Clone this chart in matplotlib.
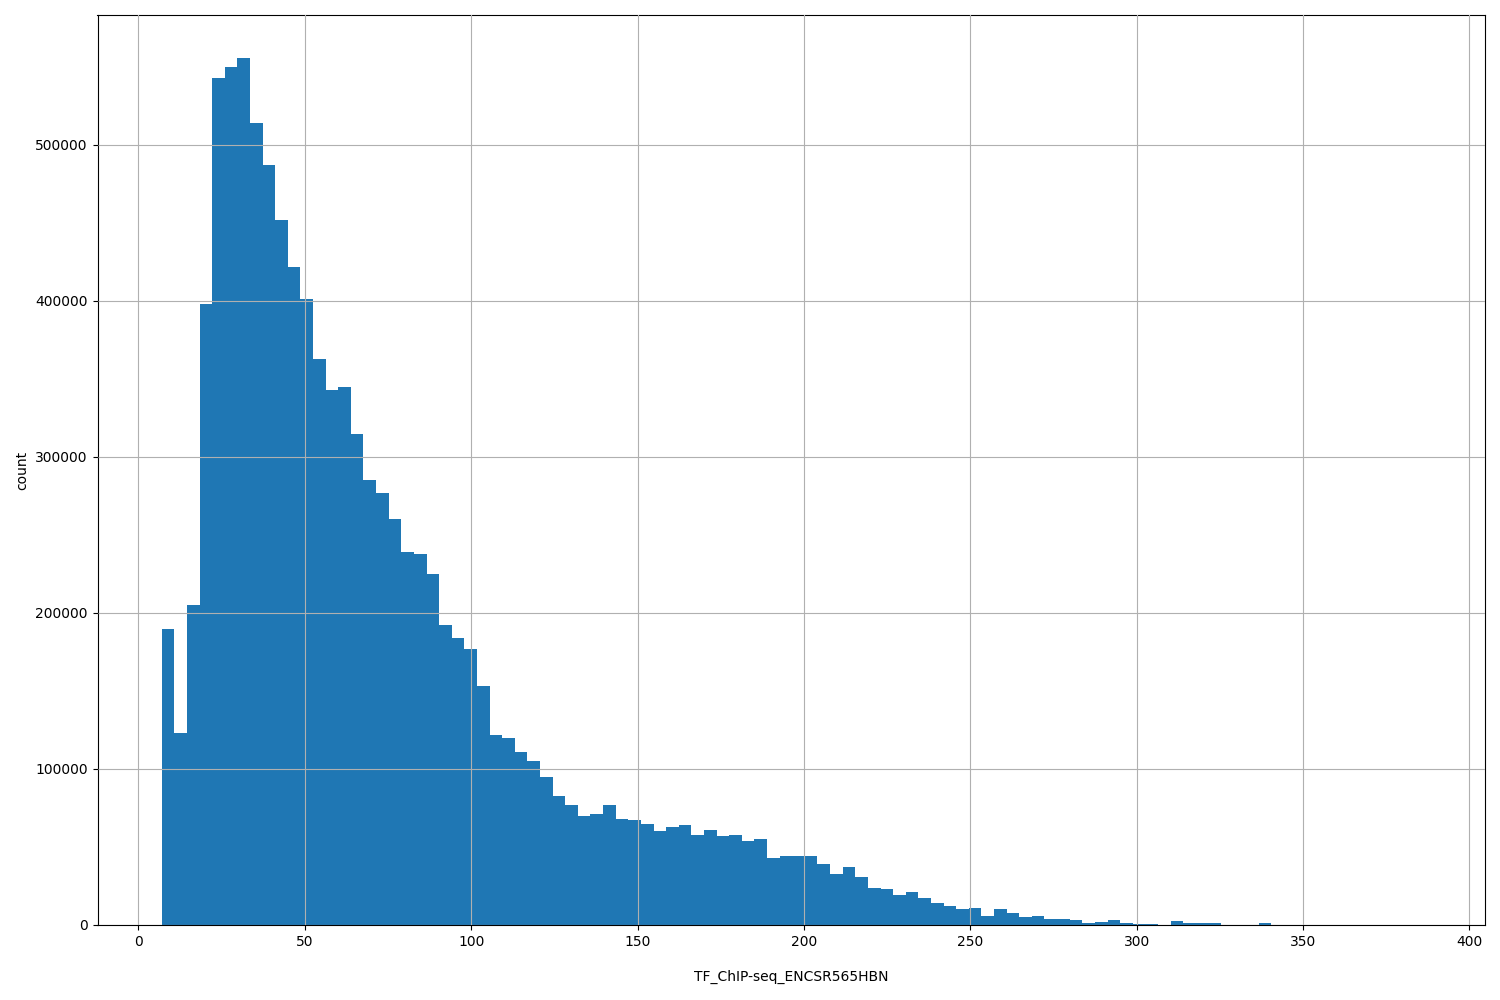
import numpy as np
import matplotlib
matplotlib.use("Agg")
import matplotlib.pyplot as plt

x_min, x_max, n_bins = 7.0, 386.0, 100
counts = [190000, 123000, 205000, 398000, 543000, 550000, 556000, 514000, 487000, 452000,
          422000, 401000, 363000, 343000, 345000, 315000, 285000, 277000, 260000, 239000,
          238000, 225000, 192000, 184000, 177000, 153000, 122000, 120000, 111000, 105000,
          95000, 83000, 77000, 70000, 71000, 77000, 68000, 67000, 65000, 60000,
          63000, 64000, 58000, 61000, 57000, 58000, 54000, 55000, 43000, 44000,
          44000, 44000, 39000, 33000, 37000, 31000, 24000, 23000, 19000, 21000,
          17000, 14000, 12000, 10000, 11000, 6000, 10000, 8000, 5000, 5500,
          4000, 4000, 3000, 1500, 2000, 3500, 1500, 800, 800, 300,
          2500, 1500, 1500, 1200, 300, 300, 300, 1000, 200, 150,
          100, 100, 80, 60, 50, 40, 30, 20, 20, 20]
xlabel = "TF_ChIP-seq_ENCSR565HBN"
ylabel = "count"

edges = np.linspace(x_min, x_max, n_bins + 1)
fig = plt.figure(figsize=(15, 10), dpi=100)
ax = fig.add_axes([0.065, 0.075, 0.925, 0.91])
ax.hist(edges[:-1], bins=edges, weights=counts, color="#1f77b4")
ax.grid(True)
ax.set_axisbelow(False)
ax.set_xlabel(xlabel, labelpad=15)
ax.set_ylabel(ylabel)
ax.set_xlim(-12.3, 404.7)
ax.set_ylim(0, 583300)
ax.set_xticks(np.arange(0, 401, 50))
fig.savefig("out.png")
